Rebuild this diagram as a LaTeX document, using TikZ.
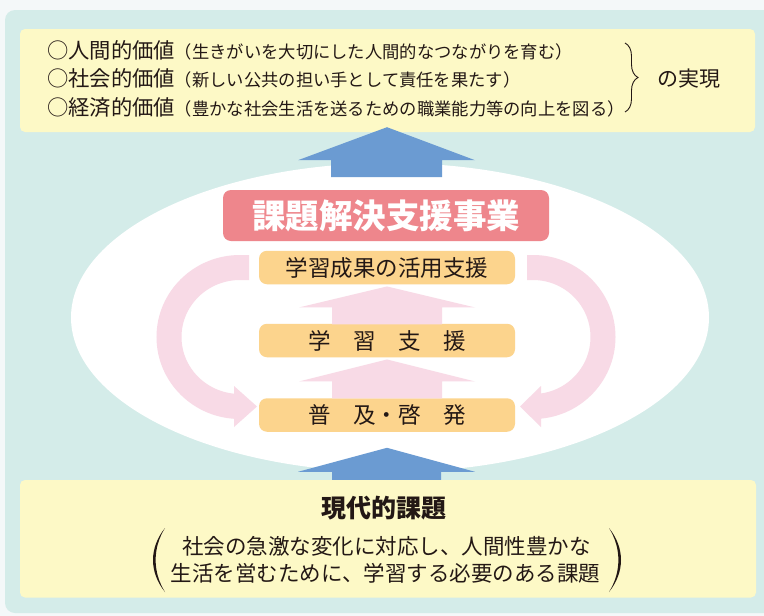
\documentclass[tikz,border=0pt]{standalone}
\usepackage{fontspec}
\newfontfamily\jp{Noto Sans CJK JP}
\usetikzlibrary{decorations.pathreplacing}
\definecolor{bgc}{HTML}{F4F8F9}
\definecolor{panelc}{HTML}{D4ECE9}
\definecolor{yelc}{HTML}{FDF9C6}
\definecolor{bluc}{HTML}{6B9BD2}
\definecolor{pnkc}{HTML}{F8DAE6}
\definecolor{redc}{HTML}{EE868C}
\definecolor{orgc}{HTML}{FCD48D}
\definecolor{txtc}{HTML}{231815}
\newcommand\fsz[1]{\fontsize{#1}{#1}\selectfont}
\begin{document}
\begin{tikzpicture}[x=1pt,y=-1pt,
  every node/.style={font=\jp, text=txtc, inner sep=0pt},
  yelbox/.style={fill=yelc, rounded corners=5pt},
  stagebox/.style={fill=orgc, rounded corners=8pt, minimum width=256pt, minimum height=33.5pt, font=\jp\fsz{22.5}},
  projbox/.style={fill=redc, rounded corners=8pt, minimum width=326pt, minimum height=51pt, text=white, font=\jp\bfseries\fsz{33.5}},
  bluearrow/.style={fill=bluc},
  pinkarrow/.style={fill=pnkc},
  band/.style={draw=pnkc, line width=25pt},
  paren/.style={fill=txtc}
]
\useasboundingbox (0,0) rectangle (764,616);
\clip (0,0) rectangle (764,616);
\fill[bgc] (0,0) rectangle (764,616);
\fill[panelc, rounded corners=10pt] (5,10) rectangle (800,613);
\fill[white] (390,317.5) ellipse [x radius=319pt, y radius=154.5pt];

% top goal box
\node[yelbox, minimum width=735pt, minimum height=103pt] (goal) at (387.5,80.5) {};
\node[anchor=west] (v1) at (47,50) {\fsz{21.3}○人間的価値\fsz{17.3}（生きがいを大切にした人間的なつながりを育む）};
\node[anchor=west] (v2) at (47,78.5) {\fsz{21.3}○社会的価値\fsz{17.3}（新しい公共の担い手として責任を果たす）};
\node[anchor=west] (v3) at (47,107) {\fsz{21.3}○経済的価値\fsz{17.3}（豊かな社会生活を送るための職業能力等の向上を図る）};
\draw[txtc, line width=0.9pt, decorate, decoration={brace, amplitude=13pt, aspect=0.5}] (625,43) -- (625,112);
\node[anchor=west, font=\jp\fsz{21}] (real) at (657,79) {の実現};

% bottom issue box
\node[yelbox, minimum width=736pt, minimum height=117.5pt] (issue) at (388,538.75) {};
\node[font=\jp\bfseries\fsz{25}] (ttl) at (384,508) {現代的課題};
\node[font=\jp\fsz{21.5}] (l1) at (386.5,546) {社会の急激な変化に対応し、人間性豊かな};
\node[font=\jp\fsz{21.5}] (l2) at (385.5,573) {生活を営むために、学習する必要のある課題};
\fill[paren] (165,528) .. controls (149,548) and (149,572) .. (165,592) .. controls (152.5,572) and (152.5,548) .. cycle;
\fill[paren] (609,528) .. controls (625,548) and (625,572) .. (609,592) .. controls (621.5,572) and (621.5,548) .. cycle;

% project box and stages
\node[projbox] (proj) at (386,215.5) {課題解決支援事業};
\node[stagebox] (s1) at (387,267.5) {学習成果の活用支援};
\node[stagebox] (s2) at (387,340.5) {学　習　支　援};
\node[stagebox] (s3) at (387,415) {普　及・啓　発};

% blue arrows
\fill[bluearrow] (goal.south) ++(-0.5,-5) -- ++(88,33) -- ++(-33,0) -- ++(0,17) -- ++(-111,0) -- ++(0,-17) -- ++(-33,0) -- cycle;
\fill[bluearrow] (issue.north) ++(-1,-32) -- ++(88,24) -- ++(-34,0) -- ++(0,8) -- ++(-109,0) -- ++(0,-8) -- ++(-34,0) -- cycle;

% pink up arrows between stages
\fill[pinkarrow] (s2.south) ++(0,2) -- ++(88,22) -- ++(-33,0) -- ++(0,17) -- ++(-110,0) -- ++(0,-17) -- ++(-33,0) -- cycle;
\fill[pinkarrow] (s1.south) ++(0,2) -- ++(88,21) -- ++(-33,0) -- ++(0,17) -- ++(-110,0) -- ++(0,-17) -- ++(-33,0) -- cycle;

% curved arrows
\draw[band] (249,267.5) -- (240,267.5) arc[start angle=90, end angle=270, x radius=71pt, y radius=69.5pt];
\fill[pinkarrow] (234,386) -- (257,406.5) -- (234,427) -- cycle;
\draw[band] (527,267.5) -- (533,267.5) arc[start angle=90, end angle=-90, x radius=70pt, y radius=69.5pt];
\fill[pinkarrow] (541,386) -- (520,406.5) -- (541,427) -- cycle;
\end{tikzpicture}
\end{document}
